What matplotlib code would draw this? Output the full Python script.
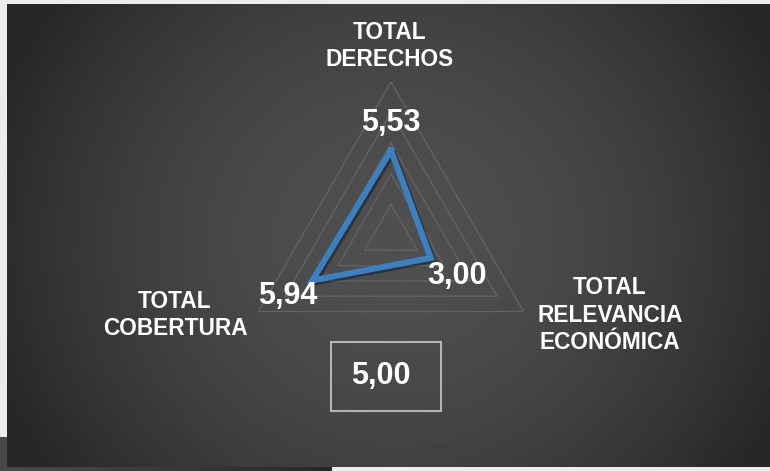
import numpy as np
import matplotlib
matplotlib.use("Agg")
import matplotlib.pyplot as plt
import matplotlib.patheffects as pe
from matplotlib.patches import Rectangle

# data
categories = ["TOTAL\nDERECHOS", "TOTAL\nRELEVANCIA\nECONÓMICA", "TOTAL\nCOBERTURA"]
values = [5.53, 3.00, 5.94]
legend_value = 5.00
ring_levels = [2, 4, 6, 8, 10]
r_max = 10

W, H = 770, 471
plt.rcParams['font.family'] = ['Liberation Sans', 'DejaVu Sans']

fig = plt.figure(figsize=(W / 100, H / 100), dpi=100)
fig.patch.set_facecolor("#ececec")

# background panel with radial gradient
bg = fig.add_axes([0, 0, 1, 1])
bg.set_xlim(0, W)
bg.set_ylim(H, 0)
bg.axis('off')

# little strip in the lower left
sx = np.linspace(0, 1, 200)
strip = np.tile(0.29 - 0.13 * sx, (10, 1))
bg.imshow(strip, extent=(0, 332, 471, 437), cmap='gray', vmin=0, vmax=1,
          aspect='auto', zorder=1)

px0, px1, py0, py1 = 7, 770, 4, 467
gx, gy = np.meshgrid(np.linspace(px0, px1, 400), np.linspace(py0, py1, 250))
d = np.sqrt(((gx - 395) / 420) ** 2 + ((gy - 240) / 400) ** 2)
shade = 0.31 - 0.155 * np.clip(d, 0, 1) ** 1.8
bg.imshow(shade, extent=(px0, px1, py1, py0), cmap='gray', vmin=0, vmax=1,
          aspect='auto', zorder=2, interpolation='bilinear')

# radar axes: center (391, 235) px, radius 153 px
cx, cy, R = 391, 235, 153
ax = fig.add_axes([(cx - R) / W, (H - cy - R) / H, 2 * R / W, 2 * R / H],
                  projection='polar')
ax.set_theta_zero_location('N')
ax.set_theta_direction(-1)
ax.set_ylim(0, r_max)
ax.axis('off')
ax.patch.set_alpha(0)

theta = np.linspace(0, 2 * np.pi, len(categories), endpoint=False)
th_closed = np.append(theta, theta[0])

for lv in ring_levels:
    ax.plot(th_closed, [lv] * len(th_closed), color="#626262", lw=1.0, zorder=2)

vals_closed = values + values[:1]
ax.plot(th_closed, vals_closed, color="#3a80c3", lw=4.3, solid_joinstyle='miter',
        zorder=5,
        path_effects=[pe.SimpleLineShadow(offset=(1.5, -1.5), shadow_color='black', alpha=0.35),
                      pe.Normal()])

# value labels
offsets = [(0, 20), (19, -13), (-18, -11)]
for t, v, off in zip(theta, values, offsets):
    ax.annotate(f"{v:.2f}".replace('.', ','), (t, v), xytext=off,
                textcoords='offset points', ha='center', va='center',
                color='white', fontsize=22, fontweight='bold', zorder=6,
                annotation_clip=False)

# category labels
label_pos = [(390, 46), (610, 315), (175, 315)]
for lab, (lx, ly) in zip(categories, label_pos):
    bg.text(lx, ly, lab, ha='center', va='center', color='white', fontsize=16.3,
            fontweight='bold', linespacing=1.25, zorder=5)

# legend-like box
bg.add_patch(Rectangle((331, 342), 110, 69, fill=False, edgecolor="#b4b4b4",
                       lw=1.5, zorder=5))
bg.text(381, 376, f"{legend_value:.2f}".replace('.', ','), ha='center', va='center',
        color='white', fontsize=22, fontweight='bold', zorder=6)

fig.savefig("out.png", dpi=100, facecolor=fig.get_facecolor())
